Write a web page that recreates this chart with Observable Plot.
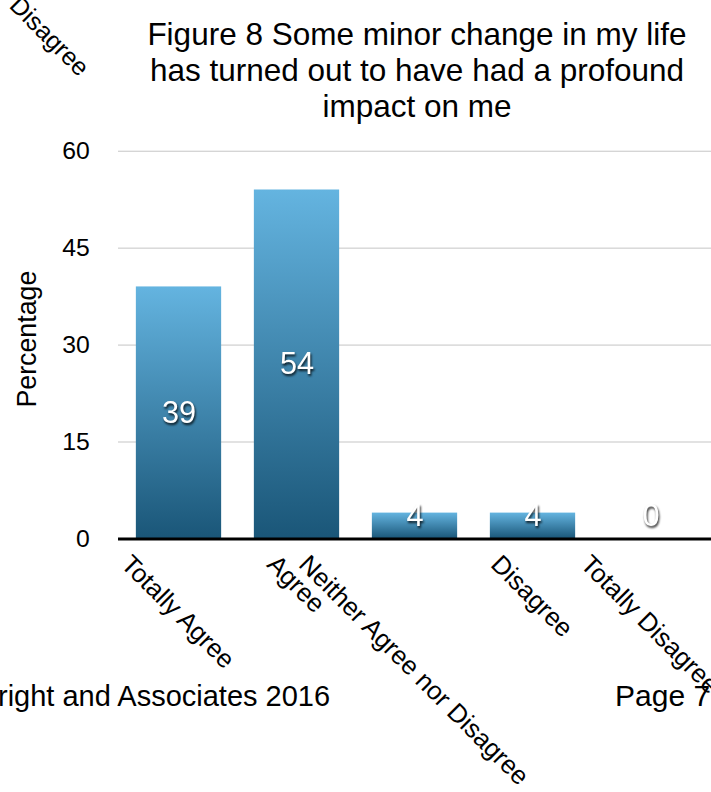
<!DOCTYPE html>
<html>
<head>
<meta charset="utf-8">
<script src="https://cdn.jsdelivr.net/npm/d3@7"></script>
<script src="https://cdn.jsdelivr.net/npm/@observablehq/plot@0.6"></script>
<style>
html, body { margin: 0; padding: 0; background: #fff; }
body { width: 711px; height: 792px; overflow: hidden; position: relative;
       font-family: "Liberation Sans", Arial, Helvetica, sans-serif; color: #000; }
#chart { position: absolute; left: 0; top: 0; }
#title { position: absolute; left: 117px; width: 600px; top: 16px; text-align: center;
         font-size: 31.5px; line-height: 36px; }
.stray { position: absolute; left: 23px; top: -8px; font-size: 25px; line-height: 1;
         transform-origin: 0 0; transform: rotate(45deg); white-space: nowrap; }
.foot { position: absolute; top: 682px; font-size: 29px; line-height: 1; white-space: nowrap; }
g[fill="white"] text { filter: drop-shadow(1px 2px 1.2px rgba(0,0,0,0.8)); }
</style>
</head>
<body>
<div id="chart"></div>
<div id="title"></div>
<div class="stray" id="stray"></div>
<div class="foot" id="footL" style="left:-2px"></div>
<div class="foot" id="footR" style="left:615px; top:681px; font-size:30px"></div>
<script>
const categories = ["Totally Agree", "Agree", "Neither Agree nor Disagree", "Disagree", "Totally Disagree"];
const percentages = [39, 54, 4, 4, 0];
const yTicks = [0, 15, 30, 45, 60];
const yLabel = "Percentage";
const titleLines = ["Figure 8 Some minor change in my life", "has turned out to have had a profound", "impact on me"];
const strayLabel = "Disagree";
const footerLeft = "right and Associates 2016";
const footerRight = "Page 7";

const data = categories.map((c, i) => ({category: c, value: percentages[i]}));

document.getElementById("title").innerHTML = titleLines.join("<br>");
document.getElementById("stray").textContent = strayLabel;
document.getElementById("footL").textContent = footerLeft;
document.getElementById("footR").textContent = footerRight;

const gradientDefs = () => {
  const d = document.createElementNS("http://www.w3.org/2000/svg", "defs");
  d.innerHTML = '<linearGradient id="barGrad" x1="0" y1="0" x2="0" y2="1">' +
    '<stop offset="0" stop-color="#64b4e0"/><stop offset="1" stop-color="#1a5678"/></linearGradient>';
  return d;
};

const chart = Plot.plot({
  width: 717,
  height: 792,
  marginLeft: 119,
  marginRight: 0,
  marginTop: 152,
  marginBottom: 249,
  style: {fontFamily: "'Liberation Sans', Arial, sans-serif", fontSize: "25px", background: "transparent", overflow: "visible"},
  x: {domain: categories, paddingInner: 0.28, paddingOuter: 0.14, axis: null},
  y: {domain: [0, 60]},
  marks: [
    gradientDefs,
    Plot.ruleY(yTicks.filter(t => t > 0), {stroke: "#c4c4c4", strokeWidth: 1}),
    Plot.axisY(yTicks, {tickSize: 0, tickPadding: 29, fontSize: 25, label: null}),
    Plot.text([yLabel], {frameAnchor: "left", textAnchor: "middle", rotate: -90, dx: -92, dy: -6, fontSize: 27}),
    Plot.barY(data, {x: "category", y: "value", fill: "url(#barGrad)"}),
    Plot.ruleY([0], {stroke: "black", strokeWidth: 3}),
    Plot.text(data, {x: "category", y: d => Math.max(d.value / 2, 3.6), text: d => String(d.value),
                     fill: "white", fontSize: 31}),
    Plot.text(categories, {x: d => d, frameAnchor: "bottom", rotate: 45, textAnchor: "start",
                           lineAnchor: "top", dy: 14, fontSize: 26})
  ]
});
document.getElementById("chart").append(chart);

// centre each rotated category label horizontally on its bar
chart.querySelectorAll("text").forEach(t => {
  const tr = t.getAttribute("transform") || "";
  if (categories.includes(t.textContent) && tr.includes("rotate(45)")) {
    const L = t.getComputedTextLength();
    t.setAttribute("transform", `translate(${-0.707 * L / 2 + 6},0) ${tr}`);
  }
});
</script>
</body>
</html>
